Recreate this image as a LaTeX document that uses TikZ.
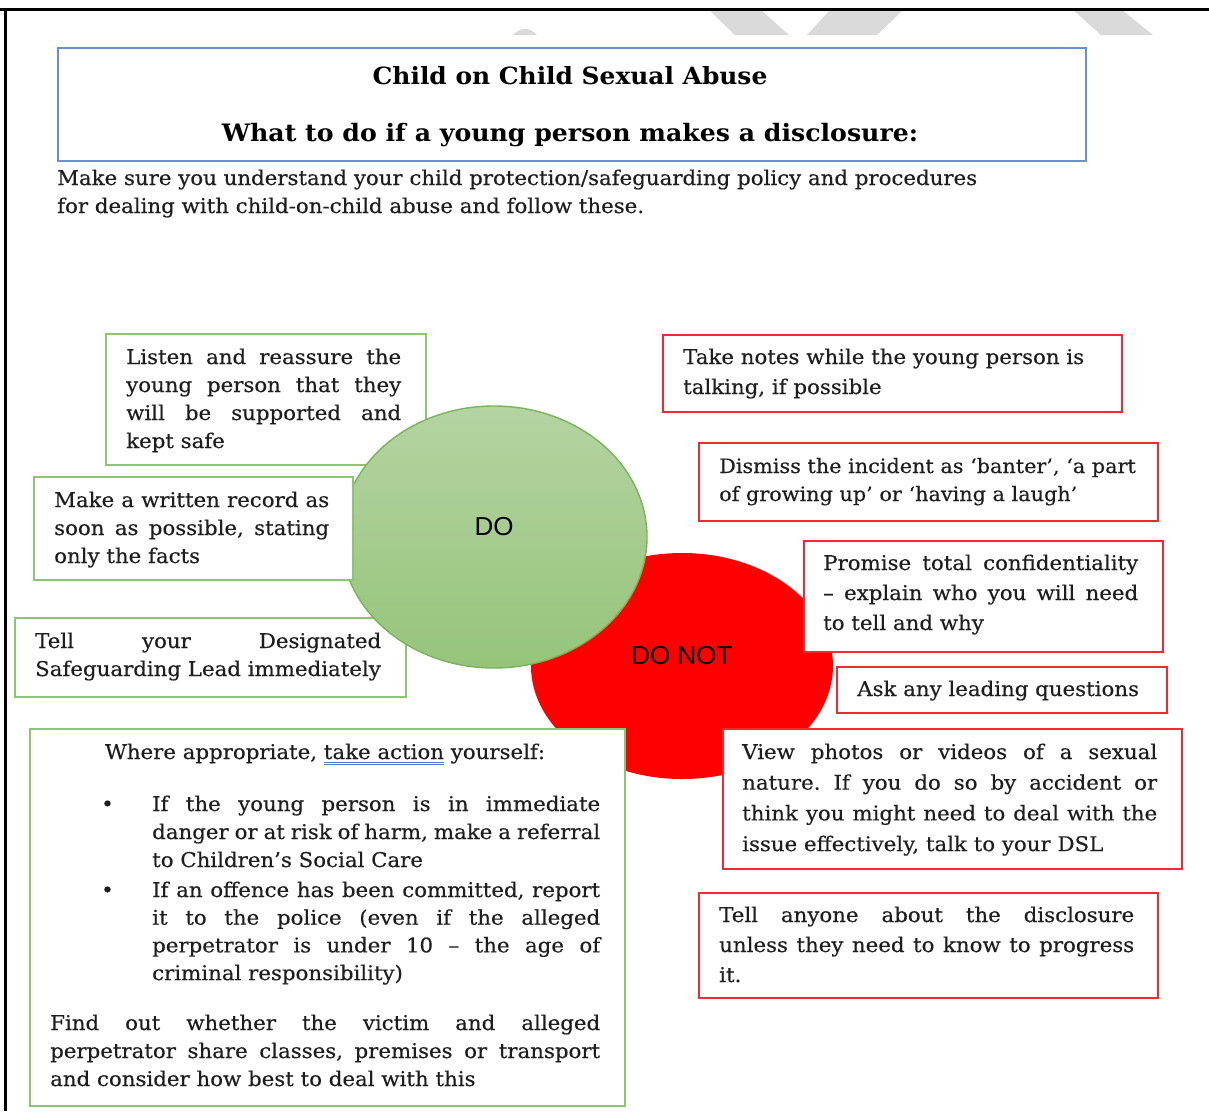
\documentclass[tikz,border=0pt]{standalone}
\usepackage{fontspec}
\setmainfont{DejaVu Serif}[FakeStretch=1.05, UprightFeatures={FakeBold=0.35}]
\newfontfamily\lsans{Liberation Sans}
\usetikzlibrary{shapes.geometric}
\definecolor{txtc}{RGB}{30,30,30}
\definecolor{gbord}{RGB}{140,198,112}
\definecolor{rbord}{RGB}{242,40,50}
\definecolor{tblue}{RGB}{104,142,214}
\definecolor{ulblue}{RGB}{80,120,210}
\definecolor{wmgrey}{RGB}{218,218,218}
\definecolor{dotop}{RGB}{180,212,162}
\definecolor{dobot}{RGB}{150,196,122}
\definecolor{doedge}{RGB}{120,180,92}
\newcommand{\jl}[1]{\makebox[\linewidth][s]{#1}}
\newcommand{\dul}[1]{\setbox0\hbox{#1}\rlap{\color{ulblue}\raisebox{-3.5pt}{\rule{\wd0}{0.9pt}}}\rlap{\color{ulblue}\raisebox{-5.8pt}{\rule{\wd0}{0.9pt}}}\box0\relax}
\newcommand{\bt}{\fontsize{20.3}{28}\selectfont\frenchspacing}
\tikzset{
  gbox/.style={draw=gbord, line width=1.6pt, rectangle, inner sep=0, anchor=north west, fill=white},
  rbox/.style={draw=rbord, line width=1.6pt, rectangle, inner sep=0, anchor=north west, fill=white},
  tbox/.style={draw=tblue, line width=1.6pt, rectangle, inner sep=0, anchor=north west},
  txt/.style={inner sep=0, anchor=base west, text=txtc},
  lbl/.style={inner sep=0, text=black, font=\lsans\fontsize{26}{30}\selectfont},
  wm/.style={fill=wmgrey, draw=none}
}
\begin{document}
\begin{tikzpicture}[x=1pt,y=-1pt]
\useasboundingbox (0,0) rectangle (1209,1111);
\fill[white] (0,0) rectangle (1209,1111);
% watermark fragments
\fill[wm] (513,35) .. controls (520,27) and (530,27) .. (537,35) -- cycle;
\fill[wm] (709,10) -- (761,10) -- (789,35) -- (735,35) -- cycle;
\fill[wm] (830,10) -- (903,10) -- (877,35) -- (807,35) -- cycle;
\fill[wm] (1073,10) -- (1122,10) -- (1153,35) -- (1101,35) -- cycle;
% page frame
\draw[line width=3pt, black] (0,9) -- (1209,9);
\draw[line width=3pt, black] (5,9) -- (5,1111);
% title
\node[tbox, minimum width=1028, minimum height=113] (title) at (57,47) {};
\node[inner sep=0, anchor=base, text=black, font=\bfseries\fontsize{23.7}{28}\selectfont] (t1) at (570,84) {Child on Child Sexual Abuse};
\node[inner sep=0, anchor=base, text=black, font=\bfseries\fontsize{24}{28}\selectfont] (t2) at (570,141) {What to do if a young person makes a disclosure:};
\node[txt] (intro) at (57,185) {\parbox[t]{960pt}{\bt Make sure you understand your child protection/safeguarding policy and procedures\\for dealing with child-on-child abuse and follow these.}};
% boxes under the DO circle
\node[gbox, minimum width=320, minimum height=131] (g1) at (105,333) {};
\node[txt] (g1t) at (126,364) {\parbox[t]{275pt}{\bt\jl{Listen and reassure the}\\\jl{young person that they}\\\jl{will be supported and}\\kept safe}};
\node[gbox, minimum width=391, minimum height=79] (g3) at (14,617) {};
\node[txt] (g3t) at (35,648) {\parbox[t]{346pt}{\bt\jl{Tell your Designated}\\Safeguarding Lead immediately}};
% circles
\fill[red] (682,666) ellipse [x radius=151pt, y radius=113pt];
\shade[top color=dotop, bottom color=dobot] (494,537) ellipse [x radius=153pt, y radius=131pt];
\draw[doedge, line width=1.4pt] (494,537) ellipse [x radius=153pt, y radius=131pt];
% boxes over the circles
\node[gbox, minimum width=319, minimum height=103] (g2) at (33,476) {};
\node[txt] (g2t) at (54,507) {\parbox[t]{275pt}{\bt\jl{Make a written record as}\\\jl{soon as possible, stating}\\only the facts}};
\node[gbox, minimum width=595, minimum height=377] (g4) at (29,728) {};
\node[inner sep=0, anchor=base, text=txtc, font=\bt] (g4h) at (325,759) {Where appropriate, \dul{take action} yourself:};
\node[txt, font=\bt] (b1) at (101,811) {•};
\node[txt] (b1t) at (152,811) {\parbox[t]{448pt}{\bt\jl{If the young person is in immediate}\\\jl{danger or at risk of harm, make a referral}\\to Children’s Social Care}};
\node[txt, font=\bt] (b2) at (101,897) {•};
\node[txt] (b2t) at (152,897) {\parbox[t]{448pt}{\fontsize{20.3}{27.7}\selectfont\frenchspacing\jl{If an offence has been committed, report}\\\jl{it to the police (even if the alleged}\\\jl{perpetrator is under 10 – the age of}\\criminal responsibility)}};
\node[txt] (g4f) at (50,1030) {\parbox[t]{550pt}{\bt\jl{Find out whether the victim and alleged}\\\jl{perpetrator share classes, premises or transport}\\and consider how best to deal with this}};
% red boxes
\node[rbox, minimum width=459, minimum height=77] (r1) at (662,334) {};
\node[txt] (r1t) at (683,364) {\parbox[t]{430pt}{\fontsize{20.3}{30}\selectfont Take notes while the young person is\\talking, if possible}};
\node[rbox, minimum width=459, minimum height=78] (r2) at (698,442) {};
\node[txt] (r2t) at (719,473) {\parbox[t]{430pt}{\fontsize{19.8}{28}\selectfont Dismiss the incident as ‘banter’, ‘a part\\of growing up’ or ‘having a laugh’}};
\node[rbox, minimum width=359, minimum height=111] (r3) at (803,540) {};
\node[txt] (r3t) at (823,570) {\parbox[t]{315pt}{\fontsize{20.3}{30}\selectfont\jl{Promise total confidentiality}\\\jl{– explain who you will need}\\to tell and why}};
\node[rbox, minimum width=330, minimum height=46] (r4) at (836,666) {};
\node[txt] (r4t) at (857,696) {\bt Ask any leading questions};
\node[rbox, minimum width=459, minimum height=140] (r5) at (722,728) {};
\node[txt] (r5t) at (742,759) {\parbox[t]{415pt}{\fontsize{20.3}{30.7}\selectfont\frenchspacing\jl{View photos or videos of a sexual}\\\jl{nature. If you do so by accident or}\\\jl{think you might need to deal with the}\\issue effectively, talk to your DSL}};
\node[rbox, minimum width=459, minimum height=105] (r6) at (698,892) {};
\node[txt] (r6t) at (719,922) {\parbox[t]{415pt}{\fontsize{20.3}{30}\selectfont\jl{Tell anyone about the disclosure}\\\jl{unless they need to know to progress}\\it.}};
% labels
\node[lbl] (do) at (494,527) {DO};
\node[lbl] (donot) at (682,656) {DO NOT};
\end{tikzpicture}
\end{document}
